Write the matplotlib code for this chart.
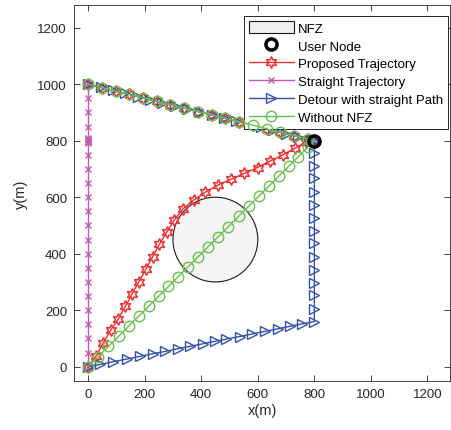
import matplotlib
matplotlib.use("Agg")
from matplotlib import pyplot as plt
from matplotlib.patches import Circle

plt.rcParams['font.family'] = ['Liberation Sans', 'DejaVu Sans']

# no fly zone and user
nfz_center = (450, 450)
nfz_radius = 150
user_x = [800]
user_y = [800]

# leg from (0,1000) to the user, shared by proposed / without NFZ
top_x = [0, 49, 97, 146, 194, 243, 291, 340, 388, 437, 485, 534, 582, 631, 679, 728, 776, 800]
top_y = [1000, 988, 976, 964, 952, 939, 927, 915, 903, 891, 879, 867, 855, 842, 830, 818, 806, 800]

# proposed trajectory, leg from (0,0)
proposed_x = [0, 28, 54, 80, 107, 132, 155, 180, 205, 228, 252, 278, 305, 336, 375, 415, 461, 507,
              552, 599, 642, 689, 733, 772, 800]
proposed_y = [0, 38, 85, 129, 170, 214, 257, 301, 346, 389, 433, 476, 520, 559, 591, 618, 644, 664,
              684, 705, 727, 750, 774, 795, 800]

# straight trajectory
straight_x = [0] * 28
straight_y = [0, 50, 100, 150, 200, 250, 300, 350, 400, 450, 500, 550, 600, 650, 700, 750,
              790, 794, 797, 800, 803, 806, 810, 850, 900, 950, 1000, 1000]

# detour with straight path
detour_low_x = [0, 42, 89, 136, 184, 228, 272, 319, 360, 405, 448, 489, 536, 581, 624, 671, 713, 758, 800,
                800, 800, 800, 800, 800, 800, 800, 800, 800, 800, 800, 800, 800, 800, 800]
detour_low_y = [0, 8, 18, 27, 37, 46, 54, 64, 72, 81, 90, 98, 107, 116, 125, 134, 143, 152, 160,
                206, 253, 298, 342, 389, 437, 480, 528, 573, 620, 667, 711, 758, 800, 800]
detour_top_x = [0, 44, 87, 131, 175, 218, 262, 306, 349, 393, 437, 480, 524, 568, 611, 655, 699, 742, 786, 800]
detour_top_y = [1000, 989, 978, 967, 956, 945, 934, 923, 913, 902, 891, 880, 869, 858, 847, 836, 825, 814, 803, 800]

# without NFZ, leg from (0,0)
direct_x = [0, 34, 72, 109, 145, 180, 215, 251, 284, 319, 354, 389, 425, 460, 495, 533, 568, 604,
            639, 674, 709, 742, 778, 800]
direct_y = [0, 34, 72, 109, 145, 180, 215, 251, 284, 319, 354, 389, 425, 460, 495, 533, 568, 604,
            639, 674, 709, 742, 778, 800]

red = '#f03030'
magenta = '#c35bb5'
blue = '#3550a8'
green = '#66c24a'
axis_color = '#262626'


def main():
    fig = plt.figure(figsize=(4.51, 4.31), dpi=100)
    ax = fig.add_axes([0.164, 0.114, 0.834, 0.872])

    ax.add_patch(Circle(nfz_center, nfz_radius, facecolor='#f5f5f5', edgecolor='#1a1a1a',
                        linewidth=0.8, label='NFZ', zorder=1))

    ax.plot(user_x, user_y, linestyle='none', marker='o', markersize=8, markerfacecolor='none',
            markeredgecolor='black', markeredgewidth=2.5, label='User Node', zorder=10)

    star = (6, 1, 0)
    ax.plot(proposed_x, proposed_y, color=red, linewidth=1.0, marker=star, markersize=8.5,
            markerfacecolor='none', markeredgewidth=1.1, label='Proposed Trajectory', zorder=3)
    ax.plot(top_x, top_y, color=red, linewidth=1.0, marker=star, markersize=8.5,
            markerfacecolor='none', markeredgewidth=1.1, zorder=3)

    ax.plot(straight_x, straight_y, color=magenta, linewidth=1.0, marker='x', markersize=5,
            markeredgewidth=1.0, label='Straight Trajectory', zorder=4)

    ax.plot(detour_low_x, detour_low_y, color=blue, linewidth=1.0, marker='>', markersize=7,
            markerfacecolor='none', markeredgewidth=1.0, label='Detour with straight Path', zorder=5)
    ax.plot(detour_top_x, detour_top_y, color=blue, linewidth=1.0, marker='>', markersize=7,
            markerfacecolor='none', markeredgewidth=1.0, zorder=5)

    ax.plot(direct_x, direct_y, color=green, linewidth=1.0, marker='o', markersize=7.5,
            markerfacecolor='none', markeredgewidth=1.0, label='Without NFZ', zorder=6)
    ax.plot(top_x, top_y, color=green, linewidth=1.0, marker='o', markersize=7.5,
            markerfacecolor='none', markeredgewidth=1.0, zorder=6)

    ax.set_xlim(-50, 1280)
    ax.set_ylim(-50, 1280)
    ticks = [0, 200, 400, 600, 800, 1000, 1200]
    ax.set_xticks(ticks)
    ax.set_yticks(ticks)
    ax.tick_params(direction='in', length=4, width=0.6, colors=axis_color, labelsize=9.5,
                   top=True, right=True, pad=5)
    for spine in ax.spines.values():
        spine.set_color(axis_color)
        spine.set_linewidth(0.6)

    ax.set_xlabel('x(m)', fontsize=10.5, color=axis_color, labelpad=2)
    ax.set_ylabel('y(m)', fontsize=10.5, color=axis_color, labelpad=7)

    leg = ax.legend(loc='upper right', bbox_to_anchor=(0.995, 0.971), borderaxespad=0,
                    fontsize=9.5, frameon=True, fancybox=False, framealpha=1,
                    edgecolor=axis_color, handlelength=3.4, handleheight=1.0,
                    handletextpad=0.3, labelspacing=0.34, borderpad=0.4)
    leg.get_frame().set_linewidth(0.7)
    leg.get_patches()[0].set_facecolor('#f0f0f0')

    fig.savefig('out.png', dpi=100)


if __name__ == '__main__':
    main()
